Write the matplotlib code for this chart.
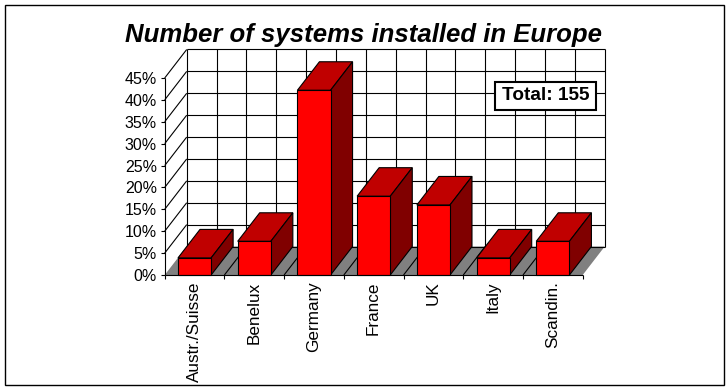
#!/usr/bin/python3

# pseudo 3D column chart, depth is done with a fixed offset in data units

import matplotlib
matplotlib.use("Agg")
import matplotlib.pyplot as plt
import numpy as np
from matplotlib.patches import Polygon, Rectangle

categories = ['Austr./Suisse', 'Benelux', 'Germany', 'France', 'UK', 'Italy', 'Scandin.']
values = [3.9, 7.7, 42.2, 18.0, 16.0, 3.9, 7.7]
y_ticks = [0, 5, 10, 15, 20, 25, 30, 35, 40, 45]

W, H = 728, 388
# front plane of the chart, pixels
LEFT, RIGHT, BOTTOM, TOP = 164.7, 582.7, 275.0, 78.0
DEPTH_X = 22 / ((RIGHT - LEFT) / len(categories))
DEPTH_Y = 28.5 / ((BOTTOM - TOP) / 45)
BAR_W = 0.555

plt.rcParams['font.family'] = ['Liberation Sans', 'DejaVu Sans']

fig = plt.figure(figsize=(W / 100, H / 100), dpi=100, facecolor='white')
ax = fig.add_axes([LEFT / W, 1 - BOTTOM / H, (RIGHT - LEFT) / W, (BOTTOM - TOP) / H])
ax.set_xlim(0, len(categories))
ax.set_ylim(0, 45)
ax.patch.set_visible(False)
for s in ax.spines.values():
    s.set_visible(False)

n = len(categories)
LW = 0.8


def poly(pts, fc, z, ec='black', lw=LW):
    ax.add_patch(Polygon(pts, closed=True, facecolor=fc, edgecolor=ec, linewidth=lw,
                         clip_on=False, zorder=z, joinstyle='miter'))


def line(xs, ys, z=2):
    ax.plot(xs, ys, color='black', lw=LW, clip_on=False, zorder=z, solid_capstyle='butt')


# floor, no outline on it
poly([(0, 0), (n, 0), (n + DEPTH_X, DEPTH_Y), (DEPTH_X, DEPTH_Y)], '#808080', 1, ec='none', lw=0)
for i in range(1, n):
    line([i, i + DEPTH_X], [0, DEPTH_Y])

# walls: gridlines on left side and back
for t in y_ticks:
    if t > 0:
        line([0, DEPTH_X], [t, t + DEPTH_Y])
    line([DEPTH_X, n + DEPTH_X], [t + DEPTH_Y, t + DEPTH_Y])
line([0, 0], [0, 45])
for k in np.arange(0, n + 0.5, 0.5):
    line([k + DEPTH_X, k + DEPTH_X], [DEPTH_Y, 45 + DEPTH_Y])

# bars
for i, v in enumerate(values):
    x0 = i + 0.5 - BAR_W / 2
    x1 = x0 + BAR_W
    poly([(x0, v), (x1, v), (x1 + DEPTH_X, v + DEPTH_Y), (x0 + DEPTH_X, v + DEPTH_Y)], '#c00000', 3)
    poly([(x1, 0), (x1 + DEPTH_X, DEPTH_Y), (x1 + DEPTH_X, v + DEPTH_Y), (x1, v)], '#800000', 3)
    ax.add_patch(Rectangle((x0, 0), BAR_W, v, facecolor='#ff0000', edgecolor='black',
                           linewidth=LW, clip_on=False, zorder=4))

ax.set_yticks(y_ticks)
ax.set_yticklabels([f'{t}%' for t in y_ticks], fontsize=11.5)
ax.set_xticks(np.arange(n + 1))
ax.set_xticklabels([])
ax.tick_params(axis='both', length=3, width=LW, color='black', pad=2.5)
line([0, n], [0, 0], z=5)

# rotated category labels, hanging from the axis
for i, c in enumerate(categories):
    ax.annotate(c, xy=(i + 0.5, 0), xytext=(-0.4, -4.5), textcoords='offset points',
                rotation=90, ha='center', va='top', fontsize=12.3)

fig.text(363.5 / W, 1 - 35 / H, 'Number of systems installed in Europe', ha='center', va='center',
         fontsize=18.5, fontweight='bold', fontstyle='italic')

# total box
fig.add_artist(Rectangle((495 / W, 1 - 109.5 / H), 100.5 / W, 27.5 / H, transform=fig.transFigure,
                         facecolor='white', edgecolor='black', linewidth=1.5, zorder=6))
fig.text(545.5 / W, 1 - 96 / H, 'Total: 155', ha='center', va='center', fontsize=13.7,
         fontweight='bold', zorder=7)

# outer frame of the picture
fig.add_artist(Rectangle((4.5 / W, 1 - 385 / H), 719.5 / W, 380.5 / H, transform=fig.transFigure,
                         fill=False, edgecolor='black', linewidth=1.0))

fig.savefig('out.png', dpi=100)
